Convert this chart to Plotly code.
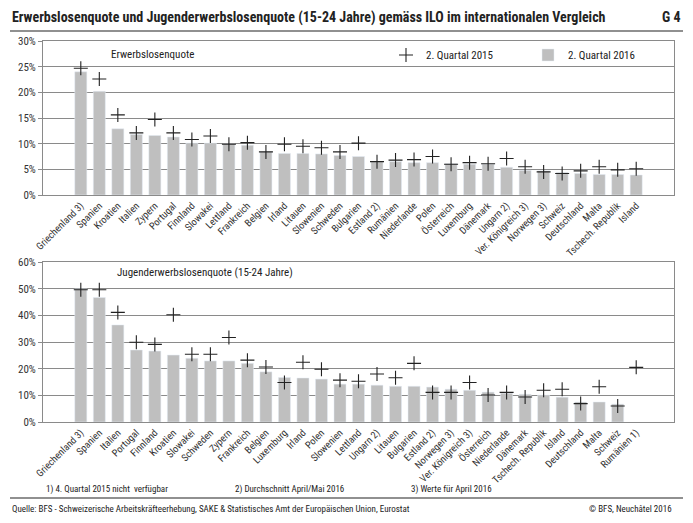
import plotly.graph_objects as go

# ---- Data: Erwerbslosenquote (top chart) ----
cat_top = ["Griechenland 3)", "Spanien", "Kroatien", "Italien", "Zypern", "Portugal",
           "Finnland", "Slowakei", "Lettland", "Frankreich", "Belgien", "Irland",
           "Litauen", "Slowenien", "Schweden", "Bulgarien", "Estland 2)", "Rumänien",
           "Niederlande", "Polen", "Österreich", "Luxemburg", "Dänemark", "Ungarn 2)",
           "Ver. Königreich 3)", "Norwegen 3)", "Schweiz", "Deutschland", "Malta",
           "Tschech. Republik", "Island"]
top_2016 = [24.0, 20.2, 12.9, 11.8, 11.6, 11.3, 10.1, 10.1, 9.9, 9.7, 8.4, 8.1,
            8.1, 8.0, 7.7, 7.5, 6.5, 6.5, 6.3, 6.3, 6.1, 6.0, 6.0, 5.4,
            4.8, 4.7, 4.4, 4.2, 4.0, 4.0, 3.9]
top_2015 = [24.7, 22.6, 15.6, 12.1, 14.7, 12.1, 10.8, 11.5, 9.9, 10.2, 8.4, 9.9,
            9.5, 9.2, 8.4, 10.1, 6.5, 6.8, 6.9, 7.5, 6.0, 6.3, 6.1, 7.1,
            5.5, 4.5, 4.2, 4.7, 5.5, 4.9, 5.1]

# ---- Data: Jugenderwerbslosenquote 15-24 (bottom chart) ----
cat_bot = ["Griechenland 3)", "Spanien", "Italien", "Portugal", "Finnland", "Kroatien",
           "Slowakei", "Schweden", "Zypern", "Frankreich", "Belgien", "Luxemburg",
           "Irland", "Polen", "Slowenien", "Lettland", "Ungarn 2)", "Litauen",
           "Bulgarien", "Estland 2)", "Norwegen 3)", "Ver. Königreich 3)", "Österreich",
           "Niederlande", "Dänemark", "Tschech. Republik", "Island", "Deutschland",
           "Malta", "Schweiz", "Rumänien 1)"]
bot_2016 = [49.9, 46.7, 36.4, 27.0, 26.6, 25.1, 23.9, 22.9, 22.9, 22.0, 18.8, 16.7,
            16.5, 16.1, 14.2, 14.2, 13.8, 13.4, 13.4, 13.1, 12.3, 11.9, 11.2,
            10.8, 10.4, 10.1, 9.3, 7.5, 7.5, 6.7, None]
bot_2015 = [49.6, 49.6, 41.1, 29.9, 29.1, 40.2, 25.4, 25.4, 31.7, 23.2, 20.6, 14.8,
            22.4, 19.8, 15.7, 15.3, 18.0, 16.6, 22.0, 11.1, 11.1, 14.8, 10.1,
            11.1, 9.4, 11.9, 12.3, 6.9, 13.2, 6.0, 20.5]

top_ticks = [0, 5, 10, 15, 20, 25, 30]
bot_ticks = [0, 10, 20, 30, 40, 50, 60]

FONT = "Roboto Condensed, Roboto, sans-serif"
BAR_COLOR = "#bfbfbf"
GRID = "#8a8a8a"
TXT = "#222222"
W, H = 693, 523


def px_x(x):
    return x / W


def px_y(y):
    return 1 - y / H


cross = dict(symbol="cross-thin", size=10, line=dict(width=1.1, color=TXT))

fig = go.Figure()
fig.add_trace(go.Scatter(x=cat_top, y=top_2015, name="2. Quartal 2015", mode="markers",
                         marker=cross, xaxis="x", yaxis="y", showlegend=True))
fig.add_trace(go.Bar(x=cat_top, y=top_2016, name="2. Quartal 2016", marker_color=BAR_COLOR,
                     xaxis="x", yaxis="y", showlegend=True))
fig.add_trace(go.Bar(x=cat_bot, y=bot_2016, name="2. Quartal 2016", marker_color=BAR_COLOR,
                     xaxis="x2", yaxis="y2", showlegend=False))
fig.add_trace(go.Scatter(x=cat_bot, y=bot_2015, name="2. Quartal 2015", mode="markers",
                         marker=cross, xaxis="x2", yaxis="y2", showlegend=False))

xdom = [px_x(43), px_x(674)]
common_x = dict(domain=xdom, tickangle=-45, showline=True, linecolor=GRID, mirror=True,
                ticks="", tickfont=dict(family=FONT, size=10, color="#333333"),
                showgrid=False, fixedrange=True, automargin=False)
common_y = dict(showline=True, linecolor=GRID, mirror=True, showgrid=True, gridcolor=GRID,
                gridwidth=1, ticks="outside", ticklen=4, tickcolor=GRID,
                tickfont=dict(family=FONT, size=11, color="#333333"), zeroline=False,
                fixedrange=True, automargin=False, tickmode="array")

fig.update_layout(
    width=W, height=H,
    margin=dict(l=0, r=0, t=0, b=0, autoexpand=False),
    paper_bgcolor="white", plot_bgcolor="white",
    bargap=0.35,
    xaxis=dict(**common_x, anchor="y"),
    yaxis=dict(**common_y, domain=[px_y(195), px_y(41)], range=[0, 30],
               tickvals=top_ticks, ticktext=[f"{v}%" for v in top_ticks], anchor="x"),
    xaxis2=dict(**common_x, anchor="y2"),
    yaxis2=dict(**common_y, domain=[px_y(422), px_y(262)], range=[0, 60],
                tickvals=bot_ticks, ticktext=[f"{v}%" for v in bot_ticks], anchor="x2"),
    legend=dict(orientation="h", x=px_x(386), y=px_y(55), xanchor="left", yanchor="middle",
                bgcolor="rgba(0,0,0,0)", font=dict(family=FONT, size=11, color=TXT),
                entrywidth=97, entrywidthmode="pixels", traceorder="normal"),
    font=dict(family=FONT),
)

annotations = [
    dict(text="<b>Erwerbslosenquote und Jugenderwerbslosenquote (15-24 Jahre) gemäss ILO im internationalen Vergleich</b>",
         x=10, y=17, xanchor="left", size=14),
    dict(text="<b>G 4</b>", x=683, y=17, xanchor="right", size=14),
    dict(text="Erwerbslosenquote", x=109, y=55, xanchor="left", size=11),
    dict(text="Jugenderwerbslosenquote (15-24 Jahre)", x=115, y=272, xanchor="left", size=11),
    dict(text="1) 4. Quartal 2015 nicht  verfügbar", x=44, y=489, xanchor="left", size=9),
    dict(text="2) Durchschnitt April/Mai 2016", x=233, y=489, xanchor="left", size=9),
    dict(text="3) Werte für April 2016", x=409, y=489, xanchor="left", size=9),
    dict(text="Quelle: BFS - Schweizerische Arbeitskräfteerhebung, SAKE & Statistisches Amt der Europäischen Union, Eurostat",
         x=10, y=509, xanchor="left", size=9),
    dict(text="© BFS, Neuchâtel 2016", x=674, y=509, xanchor="right", size=9),
]
fig.update_layout(annotations=[
    dict(text=a["text"], x=px_x(a["x"]), y=px_y(a["y"]), xref="paper", yref="paper",
         xanchor=a["xanchor"], yanchor="middle", showarrow=False,
         font=dict(family=FONT, size=a["size"], color=TXT))
    for a in annotations
])

fig.update_layout(shapes=[
    dict(type="line", xref="paper", yref="paper", x0=px_x(10), x1=px_x(683),
         y0=px_y(31), y1=px_y(31), line=dict(color=TXT, width=1.2)),
    dict(type="line", xref="paper", yref="paper", x0=px_x(10), x1=px_x(683),
         y0=px_y(498), y1=px_y(498), line=dict(color=TXT, width=1.2)),
])

fig.write_html("out.html")
